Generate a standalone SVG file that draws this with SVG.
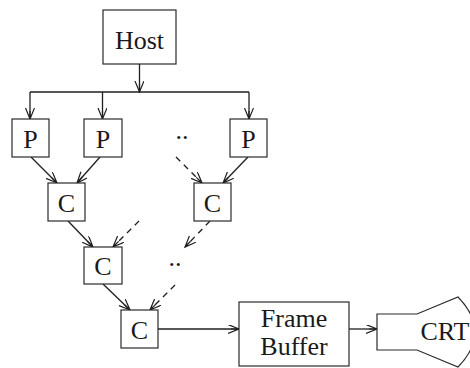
<svg xmlns="http://www.w3.org/2000/svg" width="470" height="368" viewBox="0 0 470 368">
  <style>
    .box { fill: #fff; stroke: #2a2a2a; stroke-width: 1.2; }
    .lbl { font-family: "Liberation Serif", "Times New Roman", serif; font-size: 26px; fill: #1a1a1a; text-anchor: middle; }
    .dots { font-family: "Liberation Serif", "Times New Roman", serif; font-size: 26px; fill: #1a1a1a; }
    .wire { fill: none; stroke: #1f1f1f; stroke-width: 1.3; }
    .arr { marker-end: url(#head); }
    .dash { stroke-dasharray: 6 5; }
  </style>
  <defs>
    <marker id="head" markerUnits="userSpaceOnUse" markerWidth="14" markerHeight="12" refX="11" refY="4.5" orient="auto">
      <path d="M0,0 L11,4.5 L0,9 M3,4.5 L11,4.5" fill="none" stroke="#1f1f1f" stroke-width="1.2"/>
    </marker>
  </defs>

  <rect width="470" height="368" fill="#fff"/>

  <!-- connectors -->
  <g id="connectors">
    <line class="wire arr" x1="139.5" y1="64" x2="139.5" y2="92"/>
    <line class="wire" x1="30" y1="92" x2="249" y2="92"/>
    <line class="wire arr" x1="30" y1="92" x2="30" y2="119"/>
    <line class="wire arr" x1="102.5" y1="92" x2="102.5" y2="119"/>
    <line class="wire arr" x1="249" y1="92" x2="249" y2="119"/>

    <line class="wire arr" x1="31" y1="157" x2="57" y2="183"/>
    <line class="wire arr" x1="100" y1="157" x2="77" y2="183"/>
    <line class="wire arr" x1="248" y1="157" x2="223" y2="183"/>
    <line class="wire arr dash" x1="176" y1="157" x2="202" y2="183"/>

    <line class="wire arr" x1="68" y1="221" x2="93" y2="247"/>
    <line class="wire arr dash" x1="139" y1="221" x2="113" y2="247"/>
    <line class="wire arr dash" x1="210" y1="221" x2="185" y2="247"/>

    <line class="wire arr" x1="103" y1="284" x2="130" y2="310"/>
    <line class="wire arr dash" x1="175" y1="285" x2="150" y2="310"/>

    <line class="wire arr" x1="158" y1="329" x2="239" y2="329"/>
    <line class="wire arr" x1="349" y1="329" x2="377" y2="329"/>
  </g>

  <g id="host">
    <rect class="box" x="103" y="10" width="73" height="54"/>
    <text class="lbl" x="139.5" y="49">Host</text>
  </g>

  <g id="p1">
    <rect class="box" x="12" y="119" width="37" height="38"/>
    <text class="lbl" x="30.5" y="148">P</text>
  </g>
  <g id="p2">
    <rect class="box" x="84" y="119" width="38" height="38"/>
    <text class="lbl" x="103" y="148">P</text>
  </g>
  <text class="dots" x="175.5" y="139">..</text>
  <g id="p3">
    <rect class="box" x="230" y="119" width="37" height="38"/>
    <text class="lbl" x="248.5" y="148">P</text>
  </g>

  <g id="c1">
    <rect class="box" x="48" y="183" width="37" height="38"/>
    <text class="lbl" x="66.5" y="212">C</text>
  </g>
  <g id="c2">
    <rect class="box" x="194" y="183" width="37" height="38"/>
    <text class="lbl" x="212.5" y="212">C</text>
  </g>
  <g id="c3">
    <rect class="box" x="84" y="247" width="38" height="37"/>
    <text class="lbl" x="103" y="275">C</text>
  </g>
  <text class="dots" x="168.5" y="266">..</text>
  <g id="c4">
    <rect class="box" x="121" y="310" width="37" height="38"/>
    <text class="lbl" x="139.5" y="339">C</text>
  </g>

  <g id="frame-buffer">
    <rect class="box" x="239" y="302" width="110" height="64"/>
    <text class="lbl" x="294" y="327">Frame</text>
    <text class="lbl" x="294" y="355">Buffer</text>
  </g>

  <g id="crt">
    <path class="box" d="M377,314 H417 L458,297 Q492,332 458,367 L417,350 H377 Z"/>
    <text class="lbl" x="445" y="340">CRT</text>
  </g>
</svg>
